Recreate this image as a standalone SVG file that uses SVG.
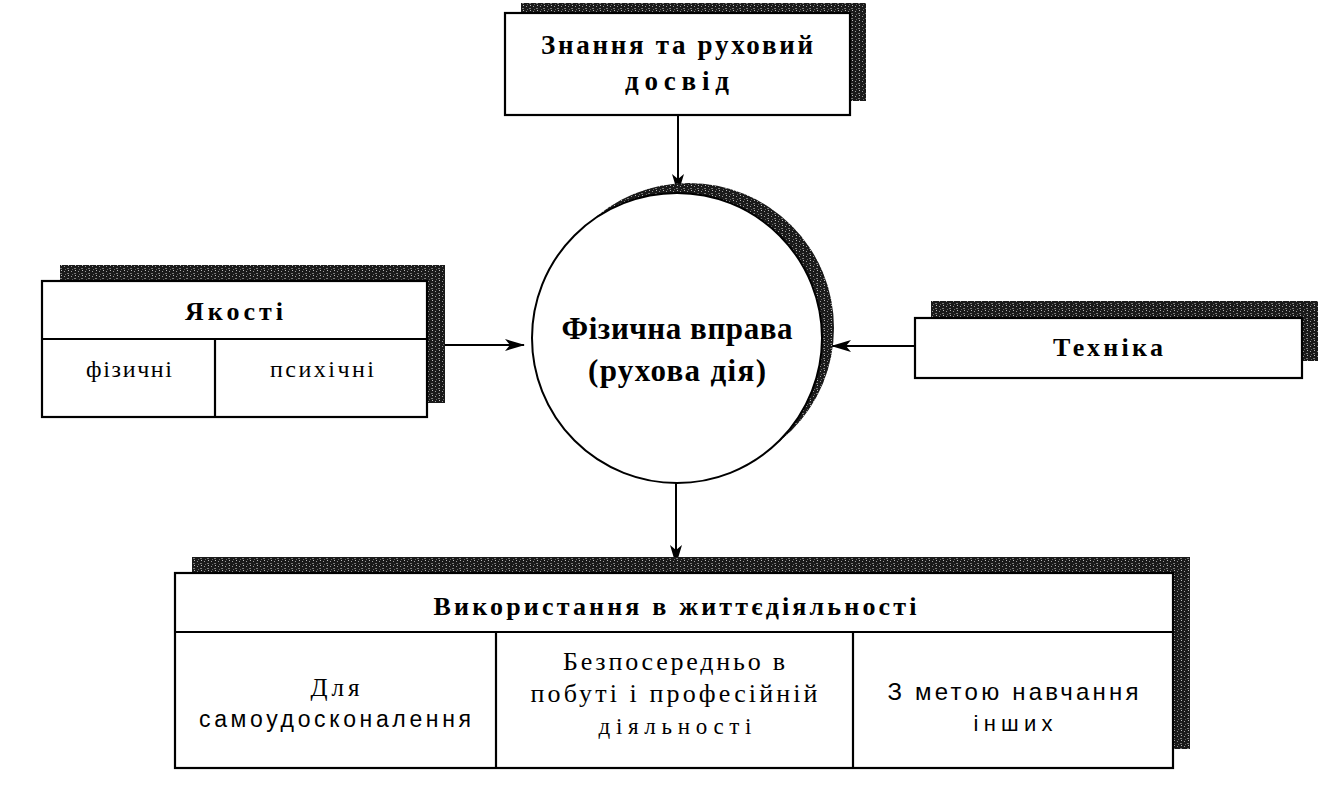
<svg xmlns="http://www.w3.org/2000/svg" width="1318" height="788" viewBox="0 0 1318 788">
<defs>
<pattern id="grain" width="7" height="5" patternUnits="userSpaceOnUse">
<rect width="7" height="5" fill="#1a1a1a"/>
<rect x="1" y="1" width="1" height="1" fill="#9a9a9a"/>
<rect x="4" y="3" width="2" height="1" fill="#777"/>
<rect x="5" y="0" width="1" height="1" fill="#bbb"/>
<rect x="2" y="4" width="1" height="1" fill="#666"/>
</pattern>
<marker id="arr" viewBox="0 0 20 12" refX="19" refY="6" markerWidth="20" markerHeight="12" markerUnits="userSpaceOnUse" orient="auto">
<path d="M0,0 L20,6 L0,12 L5,6 z" fill="#000"/>
</marker>
<style>
.box{fill:#fff;stroke:#000;stroke-width:2.2}
.sh{fill:url(#grain)}
.ln{stroke:#000;stroke-width:2.2;fill:none}
.con{stroke:#000;stroke-width:2;fill:none;marker-end:url(#arr)}
.tb{font-family:"Liberation Serif","Times New Roman",serif;font-weight:bold;fill:#000;text-anchor:middle}
.tr{font-family:"Liberation Serif","Times New Roman",serif;fill:#000;text-anchor:middle}
.ts{font-family:"Liberation Sans",Arial,sans-serif;fill:#000;text-anchor:middle}
</style>
</defs>
<rect width="1318" height="788" fill="#fff"/>

<g id="connectors">
<line class="con" x1="678" y1="115" x2="678" y2="193"/>
<line class="con" x1="427" y1="345" x2="524" y2="345"/>
<line class="con" x1="915" y1="346" x2="832" y2="346"/>
<line class="con" x1="676" y1="483" x2="676" y2="564"/>
</g>

<g id="node-knowledge">
<rect class="sh" x="521" y="3" width="345" height="98"/>
<rect class="box" x="505" y="13" width="345" height="102"/>
<text class="tb" x="677" y="54" font-size="27" textLength="272" lengthAdjust="spacing">Знання та руховий</text>
<text class="tb" x="677" y="90" font-size="27" textLength="104" lengthAdjust="spacing">досвід</text>
</g>

<g id="node-exercise">
<circle class="sh" cx="689" cy="328" r="145"/>
<circle cx="677" cy="338" r="145" fill="#fff" stroke="#000" stroke-width="2"/>
<text class="tb" x="677" y="339" font-size="31" textLength="231" lengthAdjust="spacing">Фізична вправа</text>
<text class="tb" x="677" y="381" font-size="31" textLength="178" lengthAdjust="spacing">(рухова дія)</text>
</g>

<g id="node-qualities">
<rect class="sh" x="60" y="265" width="385" height="138"/>
<rect class="box" x="42" y="281" width="385" height="136"/>
<line class="ln" x1="42" y1="339" x2="427" y2="339"/>
<line class="ln" x1="215" y1="339" x2="215" y2="417"/>
<text class="tb" x="234" y="320" font-size="26" textLength="98" lengthAdjust="spacing">Якості</text>
<text class="tr" x="129" y="377" font-size="24" textLength="86" lengthAdjust="spacing">фізичні</text>
<text class="tr" x="322" y="377" font-size="24" textLength="104" lengthAdjust="spacing">психічні</text>
</g>

<g id="node-technique">
<rect class="sh" x="931" y="301" width="387" height="60"/>
<rect class="box" x="915" y="318" width="387" height="60"/>
<text class="tb" x="1108" y="356" font-size="26" textLength="110" lengthAdjust="spacing">Техніка</text>
</g>

<g id="node-usage">
<rect class="sh" x="192" y="557" width="998" height="192"/>
<rect class="box" x="175" y="573" width="998" height="195"/>
<line class="ln" x1="175" y1="632" x2="1173" y2="632"/>
<line class="ln" x1="496" y1="632" x2="496" y2="768"/>
<line class="ln" x1="853" y1="632" x2="853" y2="768"/>
<text class="tb" x="675" y="615" font-size="26" textLength="483" lengthAdjust="spacing">Використання в життєдіяльності</text>
<text class="tr" x="335" y="696" font-size="25" textLength="49" lengthAdjust="spacing">Для</text>
<text class="ts" x="335" y="727" font-size="23" textLength="272" lengthAdjust="spacing">самоудосконалення</text>
<text class="tr" x="674" y="670" font-size="26" textLength="222" lengthAdjust="spacing">Безпосередньо в</text>
<text class="tr" x="674" y="702" font-size="26" textLength="287" lengthAdjust="spacing">побуті і професійній</text>
<text class="tr" x="675" y="734" font-size="23" textLength="153" lengthAdjust="spacing">діяльності</text>
<text class="ts" x="1013" y="700" font-size="24" textLength="251" lengthAdjust="spacing">З метою навчання</text>
<text class="ts" x="1013" y="731" font-size="22" textLength="79" lengthAdjust="spacing">інших</text>
</g>
</svg>
